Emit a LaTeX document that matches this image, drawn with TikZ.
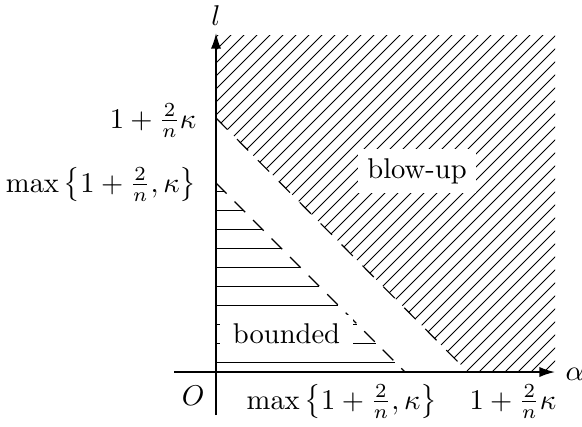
\documentclass[tikz,border=0pt]{standalone}
\usetikzlibrary{arrows.meta}
\begin{document}
\begin{tikzpicture}[x=0.35pt,y=-0.35pt,
  axis/.style={line width=0.6pt,-{Latex[length=5.5pt,width=3.6pt]}},
  hatch/.style={line width=0.35pt},
  bnd/.style={line width=0.4pt},
  lab/.style={inner sep=0pt}]
\useasboundingbox (0,0) rectangle (582,426);
\coordinate (O) at (216,372);
\coordinate (A) at (216,118);
\coordinate (B) at (468,372);
\coordinate (C) at (216,183);
\coordinate (D) at (405,372);
\coordinate (TL) at (216,35);
\coordinate (TR) at (555,35);
\coordinate (BR) at (555,372);
\coordinate (xs) at (174,372);
\coordinate (xe) at (555,372);
\coordinate (ys) at (216,415);
\coordinate (ye) at (216,33);
% blow-up hatching
\begin{scope}
  \clip (A) -- (TL) -- (TR) -- (BR) -- (B) -- cycle;
  \foreach \c in {253,266,...,940} \draw[hatch] (\c-400,400) -- (\c,0);
\end{scope}
\draw[bnd, dash pattern=on 5.6pt off 4.8pt] (A) -- (B);
% bounded hatching
\foreach \y in {191,210,...,362} \draw[hatch] (216,\y) -- (\y+33,\y);
\draw[bnd, dash pattern=on 5.25pt off 3.92pt] (C) -- (D);
% region labels
\node[fill=white, inner xsep=4.5pt, inner ysep=3.3pt] (bounded) at (286.5,334) {bounded};
\node[fill=white] (blowup) at (417,171) {blow-up};
% axes
\draw[axis] (xs) -- (xe);
\draw[axis] (ys) -- (ye);
% axis labels
\node[lab, anchor=base east] (lA) at (197,128) {$1+\frac{2}{n}\kappa$};
\node[lab, anchor=base east] (lC) at (197,192) {$\max\left\{1+\frac{2}{n},\kappa\right\}$};
\node[lab, anchor=base east] (lO) at (205,405) {$O$};
\node[lab, anchor=base west] (lD) at (246,409) {$\max\left\{1+\frac{2}{n},\kappa\right\}$};
\node[lab, anchor=base west] (lB) at (469,409) {$1+\frac{2}{n}\kappa$};
\node[lab, anchor=base west] (la) at (565,380) {$\alpha$};
\node[lab, anchor=base] (ll) at (216,25) {$l$};
\end{tikzpicture}
\end{document}
